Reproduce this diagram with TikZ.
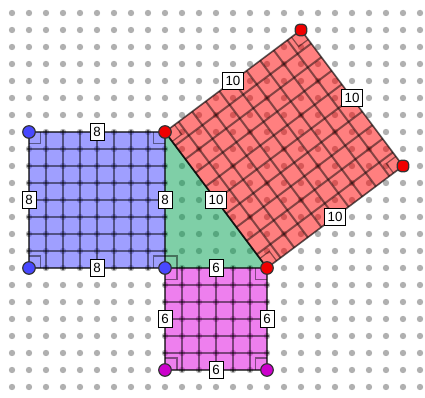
\documentclass[tikz,border=0pt]{standalone}
\usepackage{fontspec}
\setmainfont{Liberation Sans}
\usetikzlibrary{calc}
\definecolor{dotc}{RGB}{176,176,176}
\definecolor{bluebase}{RGB}{64,64,255}
\definecolor{greenbase}{RGB}{0,160,80}
\definecolor{redbase}{RGB}{255,0,0}
\definecolor{magbase}{RGB}{221,0,221}
\definecolor{bluept}{RGB}{72,72,255}
\definecolor{redpt}{RGB}{240,0,0}
\definecolor{magpt}{RGB}{204,0,204}
\tikzset{
  bgdot/.style={fill=dotc},
  bluef/.style={fill=bluebase,fill opacity=0.5},
  greenf/.style={fill=greenbase,fill opacity=0.5},
  redf/.style={fill=redbase,fill opacity=0.5},
  magf/.style={fill=magbase,fill opacity=0.5},
  gridl/.style={draw=black,draw opacity=0.48,line width=1.5pt},
  markl/.style={draw=black,draw opacity=0.45,line width=0.9pt},
  edge/.style={draw=black,draw opacity=0.65,line width=1.2pt,line join=round},
  pt/.style={circle,minimum size=9.4pt,inner sep=0pt,draw=black!80,line width=0.9pt},
  lab/.style={draw=black,line width=0.6pt,fill=white,inner xsep=2.5pt,inner ysep=2.4pt,
    text height=7.2pt,text depth=0.3pt,font=\fontsize{10}{11}\selectfont}
}
\newcommand{\rmk}[5]{\draw[markl] ($(#1)+0.7*(#2,#3)$) -- ($(#1)+0.7*(#2,#3)+0.7*(#4,#5)$) -- ($(#1)+0.7*(#4,#5)$);}
\begin{document}
\begin{tikzpicture}[x=12.75pt,y=-12.75pt]
\useasboundingbox (-0.70588,-0.76471) rectangle (24.29412,22.64706);
% background dot grid
\foreach \i in {0,...,24}{\foreach \j in {0,...,22}{\fill[bgdot] (\i,\j) circle (2.4pt);}}
% vertices
\coordinate (A) at (9,7);
\coordinate (B) at (15,15);
\coordinate (C) at (9,15);
\coordinate (Q) at (17,1);
\coordinate (P) at (23,9);
\coordinate (U) at (1,7);
\coordinate (V) at (1,15);
\coordinate (M) at (9,21);
\coordinate (N) at (15,21);
% fills
\fill[bluef] (U) -- (A) -- (C) -- (V) -- cycle;
\fill[magf] (C) -- (B) -- (N) -- (M) -- cycle;
\fill[greenf] (A) -- (C) -- (B) -- cycle;
\fill[redf] (A) -- (Q) -- (P) -- (B) -- cycle;
% square grids
\foreach \k in {1,...,7}{
  \draw[gridl] (1+\k,6.88) -- (1+\k,15.12);
  \draw[gridl] (0.88,7+\k) -- (9.12,7+\k);
}
\foreach \k in {1,...,5}{
  \draw[gridl] (9+\k,14.88) -- (9+\k,21.12);
  \draw[gridl] (8.88,15+\k) -- (15.12,15+\k);
}
\foreach \k in {1,...,9}{
  \draw[gridl] ({9+0.6*\k},{7+0.8*\k}) -- ++(8,-6);
  \draw[gridl] ({9+0.8*\k},{7-0.6*\k}) -- ++(6,8);
}
% corner marks
\rmk{U}{1}{0}{0}{1}
\rmk{A}{-1}{0}{0}{1}
\rmk{C}{-1}{0}{0}{-1}
\rmk{V}{1}{0}{0}{-1}
\rmk{C}{1}{0}{0}{1}
\rmk{B}{-1}{0}{0}{1}
\rmk{N}{-1}{0}{0}{-1}
\rmk{M}{1}{0}{0}{-1}
\rmk{C}{1}{0}{0}{-1}
\rmk{A}{0.8}{-0.6}{0.6}{0.8}
\rmk{Q}{-0.8}{0.6}{0.6}{0.8}
\rmk{P}{-0.8}{0.6}{-0.6}{-0.8}
\rmk{B}{0.8}{-0.6}{-0.6}{-0.8}
% edges
\draw[edge] (U) -- (A) -- (C) -- (V) -- cycle;
\draw[edge] (C) -- (B) -- (N) -- (M) -- cycle;
\draw[edge] (A) -- (Q) -- (P) -- (B) -- cycle;
\draw[edge] (A) -- (B);
% points
\node[pt,fill=bluept] (pU) at (U) {};
\node[pt,fill=bluept] (pV) at (V) {};
\node[pt,fill=bluept] (pC) at (C) {};
\node[pt,fill=redpt] (pA) at (A) {};
\node[pt,fill=redpt] (pB) at (B) {};
\node[pt,fill=redpt,rounded corners=3pt,rectangle,minimum size=8.6pt] (pQ) at (Q) {};
\node[pt,fill=redpt,rounded corners=3pt,rectangle,minimum size=8.6pt] (pP) at (P) {};
\node[pt,fill=magpt] (pM) at (M) {};
\node[pt,fill=magpt] (pN) at (N) {};
% labels
\node[lab] (l1) at ($(U)!0.5!(A)$) {8};
\node[lab] (l2) at ($(U)!0.5!(V)$) {8};
\node[lab] (l3) at ($(V)!0.5!(C)$) {8};
\node[lab] (l4) at ($(A)!0.5!(C)$) {8};
\node[lab] (l5) at ($(A)!0.5!(B)$) {10};
\node[lab] (l6) at ($(A)!0.5!(Q)$) {10};
\node[lab] (l7) at ($(Q)!0.5!(P)$) {10};
\node[lab] (l8) at ($(P)!0.5!(B)$) {10};
\node[lab] (l9) at ($(C)!0.5!(B)$) {6};
\node[lab] (l10) at ($(C)!0.5!(M)$) {6};
\node[lab] (l11) at ($(B)!0.5!(N)$) {6};
\node[lab] (l12) at ($(M)!0.5!(N)$) {6};
\end{tikzpicture}
\end{document}
